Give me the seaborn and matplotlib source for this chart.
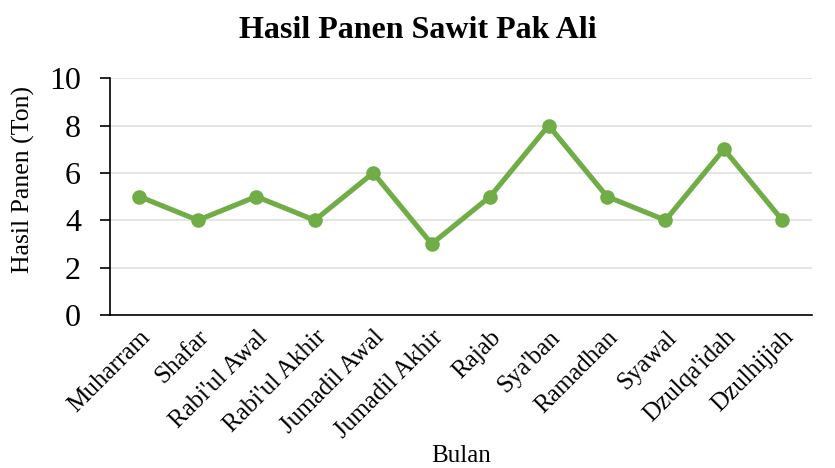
import matplotlib
matplotlib.use('Agg')
import matplotlib.pyplot as plt
import seaborn as sns
import pandas as pd

# ---- data ----
bulan = ['Muharram', 'Shafar', "Rabi'ul Awal", "Rabi'ul Akhir", 'Jumadil Awal',
         'Jumadil Akhir', 'Rajab', "Sya'ban", 'Ramadhan', 'Syawal',
         "Dzulqa'idah", 'Dzulhijjah']
hasil = [5, 4, 5, 4, 6, 3, 5, 8, 5, 4, 7, 4]
y_ticks = [0, 2, 4, 6, 8, 10]

df = pd.DataFrame({'Bulan': bulan, 'Hasil': hasil})

sns.set_theme(style='white')
plt.rcParams['font.family'] = ['Liberation Serif', 'DejaVu Serif']
plt.rcParams['text.color'] = 'black'
plt.rcParams['axes.labelcolor'] = 'black'
plt.rcParams['xtick.color'] = 'black'
plt.rcParams['ytick.color'] = 'black'

fig = plt.figure(figsize=(8.35, 4.68), dpi=100)
ax = fig.add_axes([0.132, 0.327, 0.840, 0.506])

sns.lineplot(data=df, x='Bulan', y='Hasil', sort=False, ax=ax,
             color='#70AD47', linewidth=3.7, marker='o', markersize=10.5,
             markeredgewidth=0)

ax.set_xlim(-0.5, len(bulan) - 0.5)
ax.set_ylim(0, 10)
ax.set_yticks(y_ticks)
ax.yaxis.grid(True, color='#E0E0E0', linewidth=1.2)
ax.set_axisbelow(True)

for s in ['top', 'right']:
    ax.spines[s].set_visible(False)
ax.spines['left'].set_color('black')
ax.spines['bottom'].set_color('black')
ax.spines['left'].set_linewidth(1.2)
ax.spines['bottom'].set_linewidth(1.2)

ax.tick_params(axis='y', left=True, length=7, width=1.2,
               labelsize=23, pad=14)
ax.tick_params(axis='x', bottom=False, labelsize=18, pad=2)
plt.setp(ax.get_xticklabels(), rotation=45, ha='right', rotation_mode='anchor')

ax.set_xlabel('Bulan', fontsize=18, labelpad=2)
ax.set_ylabel('Hasil Panen (Ton)', fontsize=18.5)
ax.yaxis.set_label_coords(-0.107, 0.57)
fig.suptitle('Hasil Panen Sawit Pak Ali', fontsize=23, fontweight='bold', y=0.965)

fig.savefig('out.png', dpi=100)
